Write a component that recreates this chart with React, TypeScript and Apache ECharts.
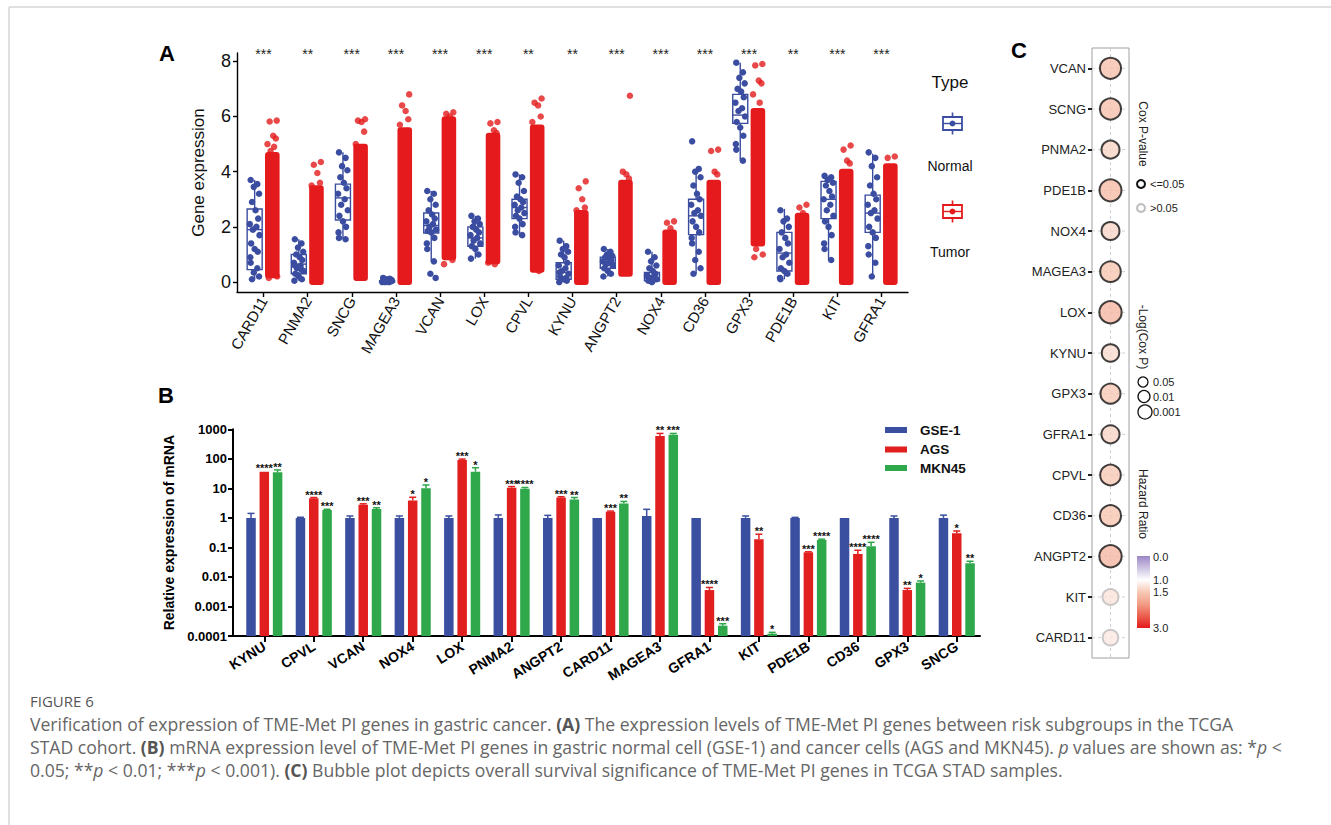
import React, { useEffect, useRef } from "react";
import * as echarts from "echarts";

const FONT = "'Liberation Sans', Arial, Helvetica, sans-serif";
const CAP_FONT = "'Open Sans', Lato, sans-serif";
const BLUE_A = "#3B4DA0";
const RED_A = "#E41A1C";
const BLUE_B = "#3A4FA0";
const RED_B = "#E21F1F";
const GREEN_B = "#2EA84A";

// ---------------- Panel A ----------------
const genesA = ["CARD11", "PNMA2", "SNCG", "MAGEA3", "VCAN", "LOX", "CPVL", "KYNU", "ANGPT2", "NOX4", "CD36", "GPX3", "PDE1B", "KIT", "GFRA1"];
const starsA = ["***", "**", "***", "***", "***", "***", "**", "**", "***", "***", "***", "***", "**", "***", "***"];
const yTicksA = [0, 2, 4, 6, 8];
// normal box: [min, q1, median, q3, max]
const normalBox = [
  [0.1, 0.45, 1.9, 2.65, 3.7],
  [0.05, 0.3, 0.65, 1.0, 1.55],
  [1.55, 2.25, 3.05, 3.55, 4.7],
  [0, 0, 0.02, 0.05, 0.15],
  [0.75, 1.78, 2.05, 2.5, 3.3],
  [0.85, 1.3, 1.6, 2.0, 2.4],
  [1.65, 2.3, 2.7, 3.0, 3.9],
  [0, 0.1, 0.35, 0.7, 1.5],
  [0.2, 0.5, 0.7, 0.9, 1.2],
  [0, 0.05, 0.15, 0.35, 1.1],
  [0.3, 1.72, 2.4, 3.0, 4.1],
  [4.4, 5.75, 6.05, 6.8, 7.95],
  [0.1, 0.4, 1.05, 1.8, 2.65],
  [0.8, 2.3, 3.0, 3.65, 3.85],
  [0.2, 1.8, 2.5, 3.15, 4.65],
];
const normalPts = [
  [3.7, 3.55, 3.45, 3.2, 2.9, 2.6, 2.3, 2.1, 2.0, 1.9, 1.7, 1.4, 1.2, 1.1, 0.9, 0.7, 0.5, 0.35, 0.2, 0.1],
  [1.55, 1.4, 1.25, 1.1, 1.0, 0.9, 0.8, 0.7, 0.6, 0.5, 0.4, 0.3, 0.2, 0.1, 0.05, 0.6, 0.45, 0.25],
  [4.7, 4.5, 4.2, 4.05, 3.8, 3.6, 3.4, 3.2, 3.0, 2.8, 2.6, 2.4, 2.2, 2.0, 1.8, 1.6, 1.55],
  [0.15, 0.12, 0.1, 0.08, 0.05, 0.03, 0.02, 0.0, 0.0, 0.0, 0.04, 0.06],
  [3.3, 3.2, 3.0, 2.8, 2.6, 2.45, 2.3, 2.2, 2.1, 2.0, 1.9, 1.85, 1.8, 1.6, 1.4, 1.2, 0.75, 0.3, 0.15],
  [2.4, 2.3, 2.2, 2.1, 2.0, 1.9, 1.8, 1.7, 1.6, 1.5, 1.4, 1.3, 1.2, 1.0, 0.85],
  [3.9, 3.8, 3.6, 3.3, 3.1, 3.0, 2.9, 2.8, 2.7, 2.6, 2.5, 2.4, 2.3, 2.1, 2.0, 1.8, 1.7],
  [1.5, 1.3, 1.2, 1.1, 1.0, 0.9, 0.7, 0.6, 0.5, 0.4, 0.3, 0.2, 0.1, 0.05, 0.0, 0.35, 0.15],
  [1.2, 1.1, 1.0, 0.95, 0.9, 0.85, 0.8, 0.75, 0.7, 0.65, 0.6, 0.5, 0.4, 0.3, 0.2],
  [1.1, 0.9, 0.75, 0.6, 0.5, 0.4, 0.3, 0.25, 0.2, 0.15, 0.1, 0.05, 0.0, 0.1, 0.2],
  [5.1, 4.1, 4.0, 3.8, 3.5, 3.2, 3.0, 2.8, 2.6, 2.5, 2.4, 2.2, 2.0, 1.8, 1.6, 1.4, 1.1, 0.8, 0.5, 0.3],
  [7.95, 7.6, 7.4, 7.2, 7.0, 6.9, 6.7, 6.5, 6.3, 6.2, 6.0, 5.8, 5.6, 5.3, 5.0, 4.8, 4.4],
  [2.6, 2.3, 2.2, 2.0, 1.8, 1.6, 1.4, 1.2, 1.0, 0.9, 0.7, 0.5, 0.4, 0.3, 0.15, 0.1],
  [3.85, 3.8, 3.7, 3.6, 3.5, 3.3, 3.1, 3.0, 2.8, 2.6, 2.4, 2.2, 2.0, 1.7, 1.4, 1.2, 0.8],
  [4.7, 4.5, 4.2, 3.8, 3.5, 3.2, 3.0, 2.8, 2.6, 2.5, 2.3, 2.0, 1.8, 1.6, 1.3, 1.0, 0.7, 0.2],
];
// dense tumour cloud: [lowest dense value, highest dense value]
const tumorCloud = [
  [0.25, 4.6], [0.0, 3.4], [0.15, 4.9], [0.0, 5.5], [0.9, 5.9], [0.75, 5.3], [0.45, 5.6], [0.0, 2.5],
  [0.3, 3.6], [0.0, 1.8], [0.0, 3.6], [1.4, 6.2], [0.0, 2.4], [0.0, 4.0], [0.0, 4.2],
];
const tumorExtra = [
  [5.85, 5.82, 5.3, 5.2, 5.0, 4.9, 4.75, 0.2, 0.15],
  [4.35, 4.25, 3.95, 3.6, 3.5],
  [5.9, 5.85, 5.8, 5.45, 5.0],
  [6.8, 6.4, 6.2, 5.9, 5.7],
  [6.15, 6.1, 6.0, 0.8, 0.65],
  [5.8, 5.75, 5.5, 5.4, 0.7, 0.65],
  [6.65, 6.5, 6.4, 6.0, 5.8, 0.4],
  [3.65, 3.4, 3.0, 2.7, 2.6],
  [6.75, 4.0, 3.9, 3.75],
  [2.2, 2.15, 1.95],
  [4.8, 4.75, 4.0, 3.9],
  [7.9, 7.85, 7.3, 7.2, 6.8, 6.5, 1.2, 1.0, 0.9],
  [2.8, 2.7, 2.5],
  [4.95, 4.8, 4.4, 4.3],
  [4.55, 4.5, 4.0],
];
const jitterPattern = [-0.09, 0.06, -0.02, 0.1, -0.06, 0.02, 0.08, -0.11, 0.04, -0.04, 0.11, -0.08, 0.0, 0.07, -0.1];

// ---------------- Panel B ----------------
const genesB = ["KYNU", "CPVL", "VCAN", "NOX4", "LOX", "PNMA2", "ANGPT2", "CARD11", "MAGEA3", "GFRA1", "KIT", "PDE1B", "CD36", "GPX3", "SNCG"];
const yTicksB = ["0.0001", "0.001", "0.01", "0.1", "1", "10", "100", "1000"];
const gse1 = [1, 1, 1, 1, 1, 1, 1, 1, 1.16, 1, 1, 1, 1, 1, 1];
const gse1Err = [1.42, 1.05, 1.16, 1.16, 1.16, 1.26, 1.22, 1.02, 1.95, 1.02, 1.16, 1.04, 1.02, 1.16, 1.24];
const ags = [36.6, 4.6, 2.8, 3.9, 91, 10.5, 4.95, 1.62, 592, 0.0036, 0.19, 0.068, 0.06, 0.0036, 0.3];
const agsErr = [38, 4.9, 3.0, 5.0, 98, 11.5, 5.2, 1.7, 725, 0.0044, 0.28, 0.071, 0.08, 0.0041, 0.36];
const mkn45 = [35, 1.85, 2.0, 10, 36.6, 9.7, 4.2, 3.1, 656, 0.000224, 0.00012, 0.178, 0.109, 0.0064, 0.029];
const mkn45Err = [42, 1.95, 2.2, 13, 50, 10.7, 4.9, 3.6, 725, 0.00026, 0.000133, 0.19, 0.149, 0.0073, 0.034];
const gse1Stars = genesB.map(() => "");
const agsStars = ["****", "****", "***", "*", "***", "***", "***", "***", "**", "****", "**", "***", "****", "**", "*"];
const mkn45Stars = ["**", "***", "**", "*", "*", "****", "**", "**", "***", "***", "*", "****", "****", "*", "**"];

// ---------------- Panel C ----------------
const genesC = ["VCAN", "SCNG", "PNMA2", "PDE1B", "NOX4", "MAGEA3", "LOX", "KYNU", "GPX3", "GFRA1", "CPVL", "CD36", "ANGPT2", "KIT", "CARD11"];
const hazardC = [1.6, 1.6, 1.4, 1.65, 1.38, 1.55, 1.7, 1.33, 1.5, 1.4, 1.5, 1.55, 1.7, 1.25, 1.2];
const coxP = [0.003, 0.003, 0.018, 0.0018, 0.018, 0.004, 0.0015, 0.025, 0.0056, 0.017, 0.004, 0.003, 0.0015, 0.055, 0.07];
const hrColors = ["#9C87C6", "#CDC3E2", "#FFFFFF", "#F7C9B6", "#F29D85", "#EB5E4E", "#E41A1C"];
const hrLabels = ["0.0", "1.0", "1.5", "3.0"];
const sizeLegend = ["0.05", "0.01", "0.001"];

function buildOption(): any {
  const ticksA = genesA.map((_, i) => i + 1);
  const ticksB = genesB.map((_, i) => i);

  const normalBoxSeries = {
    type: "custom",
    xAxisIndex: 0,
    yAxisIndex: 0,
    data: normalBox.map((b, i) => [i + 1, ...b]),
    renderItem: (params: any, api: any) => {
      const x = api.value(0) - 0.2;
      const mn = api.value(1), q1 = api.value(2), md = api.value(3), q3 = api.value(4), mx = api.value(5);
      const hw = 0.17;
      const tl = api.coord([x - hw, q3]);
      const br = api.coord([x + hw, q1]);
      const pMax = api.coord([x, mx]);
      const pMin = api.coord([x, mn]);
      const pMed = api.coord([x, md]);
      const st = { stroke: BLUE_A, lineWidth: 1.4, fill: null };
      return {
        type: "group",
        children: [
          { type: "line", shape: { x1: pMax[0], y1: pMax[1], x2: pMax[0], y2: tl[1] }, style: st },
          { type: "line", shape: { x1: pMin[0], y1: pMin[1], x2: pMin[0], y2: br[1] }, style: st },
          { type: "rect", shape: { x: tl[0], y: tl[1], width: br[0] - tl[0], height: Math.max(br[1] - tl[1], 1) }, style: { stroke: BLUE_A, lineWidth: 1.4, fill: "#fff" } },
          { type: "line", shape: { x1: tl[0], y1: pMed[1], x2: br[0], y2: pMed[1] }, style: st },
        ],
      };
    },
    z: 2,
  };

  const normalPointSeries = {
    type: "scatter",
    xAxisIndex: 0,
    yAxisIndex: 0,
    symbolSize: 6.5,
    itemStyle: { color: BLUE_A, opacity: 1 },
    data: normalPts.flatMap((arr, gi) => arr.map((v, k) => [gi + 1 - 0.2 + jitterPattern[k % jitterPattern.length], v])),
    z: 3,
  };

  const tumorCloudSeries = {
    type: "custom",
    xAxisIndex: 0,
    yAxisIndex: 0,
    data: tumorCloud.map((c, i) => [i + 1, c[0], c[1]]),
    renderItem: (params: any, api: any) => {
      const x = api.value(0) + 0.2;
      const a = api.coord([x - 0.165, api.value(2)]);
      const b = api.coord([x + 0.165, api.value(1)]);
      return {
        type: "rect",
        shape: { x: a[0], y: a[1] - 3, width: b[0] - a[0], height: b[1] - a[1] + 6, r: 3 },
        style: { fill: RED_A },
      };
    },
    z: 3,
  };

  const tumorExtraSeries = {
    type: "scatter",
    xAxisIndex: 0,
    yAxisIndex: 0,
    symbolSize: 6.5,
    itemStyle: { color: RED_A },
    data: tumorExtra.flatMap((arr, gi) => arr.map((v, k) => [gi + 1 + 0.2 + jitterPattern[(k + 3) % jitterPattern.length], v])),
    z: 3,
  };

  const starsASeries = {
    type: "custom",
    xAxisIndex: 0,
    yAxisIndex: 0,
    data: genesA.map((_, i) => [i + 1, 8.3]),
    renderItem: (params: any, api: any) => {
      const p = api.coord([api.value(0), api.value(1)]);
      return {
        type: "text",
        x: p[0],
        y: p[1] + 1,
        style: { text: starsA[params.dataIndex], fontSize: 14, fontFamily: FONT, fill: "#222", align: "center", verticalAlign: "middle" },
      };
    },
    z: 4,
  };

  const barSeries = (vals: number[], errs: number[], stars: string[], color: string, off: number) => ({
    type: "custom",
    xAxisIndex: 1,
    yAxisIndex: 1,
    data: vals.map((v, i) => [i, v, errs[i]]),
    renderItem: (params: any, api: any) => {
      const x = api.value(0) + off;
      const base = api.coord([x, 0.0001]);
      const top = api.coord([x, api.value(1)]);
      const et = api.coord([x, api.value(2)]);
      const w = 9.5;
      const children: any[] = [
        { type: "rect", shape: { x: top[0] - w / 2, y: top[1], width: w, height: base[1] - top[1] }, style: { fill: color } },
      ];
      if (top[1] - et[1] > 0.5) {
        children.push({ type: "line", shape: { x1: top[0], y1: top[1], x2: top[0], y2: et[1] }, style: { stroke: color, lineWidth: 1.5 } });
        children.push({ type: "line", shape: { x1: top[0] - 3.5, y1: et[1], x2: top[0] + 3.5, y2: et[1] }, style: { stroke: color, lineWidth: 1.5 } });
      }
      const s = stars[params.dataIndex];
      if (s) {
        children.push({
          type: "text",
          x: top[0],
          y: et[1] - 3,
          style: { text: s, fontSize: 11, fontWeight: "bold", fontFamily: FONT, fill: "#111", align: "center", verticalAlign: "middle" },
        });
      }
      return { type: "group", children };
    },
    z: 3,
  });

  const offB = 13.3 / 49.46;

  const cLinesSeries = {
    type: "custom",
    xAxisIndex: 2,
    yAxisIndex: 2,
    data: genesC.map((_, i) => [1, i]),
    renderItem: (params: any, api: any) => {
      const i = api.value(1);
      const a = api.coord([0, i]);
      const b = api.coord([2, i]);
      const children: any[] = [
        { type: "line", shape: { x1: a[0], y1: a[1], x2: b[0], y2: b[1] }, style: { stroke: "#cfcfcf", lineWidth: 1, lineDash: [3, 3] } },
      ];
      if (params.dataIndex === 0) {
        const t = api.coord([1, 0]);
        const size = api.size([0, 1]);
        children.push({
          type: "line",
          shape: { x1: t[0], y1: t[1] - size[1] / 2, x2: t[0], y2: t[1] + size[1] * 14.5 },
          style: { stroke: "#cfcfcf", lineWidth: 1, lineDash: [3, 3] },
        });
      }
      return { type: "group", children };
    },
    z: 1,
  };

  const bubbleSeries = {
    type: "scatter",
    xAxisIndex: 2,
    yAxisIndex: 2,
    data: genesC.map((g, i) => ({
      value: [1, i, hazardC[i], coxP[i]],
      itemStyle: { borderColor: coxP[i] <= 0.05 ? "#111" : "#bdbdbd", borderWidth: 2 },
    })),
    symbolSize: (v: number[]) => 11 + 4 * -Math.log10(v[3]),
    z: 3,
  };

  const series: any[] = [
    normalBoxSeries,
    normalPointSeries,
    tumorCloudSeries,
    tumorExtraSeries,
    starsASeries,
    barSeries(gse1, gse1Err, gse1Stars, BLUE_B, -offB),
    barSeries(ags, agsErr, agsStars, RED_B, 0),
    barSeries(mkn45, mkn45Err, mkn45Stars, GREEN_B, offB),
    cLinesSeries,
    bubbleSeries,
  ];
  const bubbleIndex = series.indexOf(bubbleSeries);

  const txt = (x: number, y: number, text: string, extra: any = {}, rotation = 0) => ({
    type: "text",
    x,
    y,
    rotation,
    style: { text, fontFamily: FONT, fontSize: 12, fill: "#222", align: "left", verticalAlign: "middle", ...extra },
  });

  const legendBoxIcon = (cy: number, color: string) => ({
    type: "group",
    children: [
      { type: "line", shape: { x1: 952.5, y1: cy - 11, x2: 952.5, y2: cy - 6.5 }, style: { stroke: color, lineWidth: 1.6 } },
      { type: "line", shape: { x1: 952.5, y1: cy + 6.5, x2: 952.5, y2: cy + 11 }, style: { stroke: color, lineWidth: 1.6 } },
      { type: "rect", shape: { x: 943, y: cy - 6.5, width: 19, height: 13 }, style: { fill: "#fff", stroke: color, lineWidth: 1.8 } },
      { type: "line", shape: { x1: 943, y1: cy, x2: 962, y2: cy }, style: { stroke: color, lineWidth: 1.4 } },
      { type: "circle", shape: { cx: 952.5, cy, r: 3 }, style: { fill: color } },
    ],
  });

  const CAP_SIZE = 17.6;
  const capBase = { fontFamily: CAP_FONT, fontSize: CAP_SIZE, fill: "#666" };
  const rich = {
    b: { fontFamily: CAP_FONT, fontSize: CAP_SIZE, fill: "#555", fontWeight: "bold" },
    i: { fontFamily: CAP_FONT, fontSize: CAP_SIZE, fill: "#666", fontStyle: "italic" },
  };
  const capX = 30;

  const graphic: any[] = [
    // page frame
    { type: "line", shape: { x1: 9, y1: 7, x2: 1331, y2: 7 }, style: { stroke: "#d6d6d6", lineWidth: 1.5 } },
    { type: "line", shape: { x1: 9, y1: 7, x2: 9, y2: 825 }, style: { stroke: "#d6d6d6", lineWidth: 1.5 } },
    // panel letters
    txt(159, 53, "A", { fontSize: 22, fontWeight: "bold", fill: "#000" }),
    txt(158, 395, "B", { fontSize: 22, fontWeight: "bold", fill: "#000" }),
    txt(1011, 50, "C", { fontSize: 22, fontWeight: "bold", fill: "#000" }),
    // legend A
    txt(950, 82, "Type", { fontSize: 17, align: "center", fill: "#111" }),
    legendBoxIcon(123.5, BLUE_A),
    txt(950, 166, "Normal", { fontSize: 14, align: "center", fill: "#111" }),
    legendBoxIcon(211.5, RED_A),
    txt(950, 252, "Tumor", { fontSize: 14, align: "center", fill: "#111" }),
    // legend B
    { type: "rect", shape: { x: 885, y: 427, width: 22, height: 6 }, style: { fill: BLUE_B } },
    { type: "rect", shape: { x: 885, y: 446.5, width: 22, height: 6 }, style: { fill: RED_B } },
    { type: "rect", shape: { x: 885, y: 465, width: 22, height: 6 }, style: { fill: GREEN_B } },
    txt(920, 430, "GSE-1", { fontSize: 13.5, fontWeight: "bold", fill: "#111" }),
    txt(920, 449.5, "AGS", { fontSize: 13.5, fontWeight: "bold", fill: "#111" }),
    txt(920, 468, "MKN45", { fontSize: 13.5, fontWeight: "bold", fill: "#111" }),
    // legend C
    txt(1143, 134, "Cox P-value", { fontSize: 12, align: "center" }, -Math.PI / 2),
    { type: "circle", shape: { cx: 1141, cy: 184, r: 4 }, style: { fill: "#fff", stroke: "#111", lineWidth: 2 } },
    txt(1150, 184, "<=0.05", { fontSize: 11 }),
    { type: "circle", shape: { cx: 1141, cy: 208, r: 4 }, style: { fill: "#fff", stroke: "#bdbdbd", lineWidth: 2 } },
    txt(1150, 208, ">0.05", { fontSize: 11 }),
    txt(1143, 337, "-Log(Cox P)", { fontSize: 12, align: "center" }, -Math.PI / 2),
    { type: "circle", shape: { cx: 1143, cy: 382, r: 5 }, style: { fill: "none", stroke: "#111", lineWidth: 1.3 } },
    { type: "circle", shape: { cx: 1144, cy: 396.5, r: 6 }, style: { fill: "none", stroke: "#111", lineWidth: 1.3 } },
    { type: "circle", shape: { cx: 1145, cy: 412, r: 7 }, style: { fill: "none", stroke: "#111", lineWidth: 1.3 } },
    txt(1153, 382, sizeLegend[0], { fontSize: 11 }),
    txt(1153, 396.5, sizeLegend[1], { fontSize: 11 }),
    txt(1153, 412, sizeLegend[2], { fontSize: 11 }),
    txt(1143, 504, "Hazard Ratio", { fontSize: 12, align: "center" }, -Math.PI / 2),
    {
      type: "rect",
      shape: { x: 1137, y: 556, width: 13, height: 72 },
      style: {
        fill: new echarts.graphic.LinearGradient(0, 0, 0, 1, hrColors.map((c, k) => ({ offset: k / (hrColors.length - 1), color: c }))),
      },
    },
    txt(1153, 557, hrLabels[0], { fontSize: 11 }),
    txt(1153, 580, hrLabels[1], { fontSize: 11 }),
    txt(1153, 592, hrLabels[2], { fontSize: 11 }),
    txt(1153, 628, hrLabels[3], { fontSize: 11 }),
    // caption
    { type: "text", x: capX, y: 701, style: { text: "FIGURE 6", fontFamily: CAP_FONT, fontSize: 15, fill: "#555", verticalAlign: "middle" } },
    {
      type: "text", x: capX, y: 724,
      style: { ...capBase, verticalAlign: "middle", rich, text: "Verification of expression of TME-Met PI genes in gastric cancer. {b|(A)} The expression levels of TME-Met PI genes between risk subgroups in the TCGA" },
    },
    {
      type: "text", x: capX, y: 747,
      style: { ...capBase, verticalAlign: "middle", rich, text: "STAD cohort. {b|(B)} mRNA expression level of TME-Met PI genes in gastric normal cell (GSE-1) and cancer cells (AGS and MKN45). {i|p} values are shown as: *{i|p} <" },
    },
    {
      type: "text", x: capX, y: 770,
      style: { ...capBase, verticalAlign: "middle", rich, text: "0.05; **{i|p} < 0.01; ***{i|p} < 0.001). {b|(C)} Bubble plot depicts overall survival significance of TME-Met PI genes in TCGA STAD samples." },
    },
  ];

  return {
    animation: false,
    backgroundColor: "#fff",
    textStyle: { fontFamily: FONT },
    grid: [
      { left: 237, top: 53, width: 671, height: 239 },
      { left: 233, top: 429.3, width: 747, height: 206.7 },
      { left: 1092, top: 48, width: 37, height: 610, show: true, borderColor: "#a0a0a0", borderWidth: 1 },
    ],
    xAxis: [
      {
        gridIndex: 0, type: "value", min: 0.4, max: 15.6,
        axisLine: { onZero: false, lineStyle: { color: "#000", width: 1.4 } },
        axisTick: { customValues: ticksA, length: 5, lineStyle: { color: "#000", width: 1.4 } },
        axisLabel: { customValues: ticksA, formatter: (v: number) => genesA[Math.round(v) - 1] ?? "", rotate: 60, fontSize: 15, color: "#111", fontFamily: FONT, margin: 6 },
        splitLine: { show: false },
      },
      {
        gridIndex: 1, type: "value", min: -0.633, max: 14.47,
        axisLine: { onZero: false, lineStyle: { color: "#000", width: 2 } },
        axisTick: { customValues: ticksB, length: 6, lineStyle: { color: "#000", width: 2 } },
        axisLabel: { customValues: ticksB, formatter: (v: number) => genesB[Math.round(v)] ?? "", rotate: 32, fontSize: 14, fontWeight: "bold", color: "#000", fontFamily: FONT, margin: 9 },
        splitLine: { show: false },
      },
      {
        gridIndex: 2, type: "value", min: 0, max: 2, interval: 1,
        axisLine: { show: false, onZero: false }, axisTick: { show: false }, axisLabel: { show: false }, splitLine: { show: false },
      },
    ],
    yAxis: [
      {
        gridIndex: 0, type: "value", min: -0.36, max: 8.3,
        axisLine: { show: true, onZero: false, lineStyle: { color: "#000", width: 1.4 } },
        axisTick: { show: true, customValues: yTicksA, length: 4, lineStyle: { color: "#000", width: 1.4 } },
        axisLabel: { customValues: yTicksA, fontSize: 18, color: "#111", fontFamily: FONT, margin: 6 },
        splitLine: { show: false },
        name: "Gene expression", nameLocation: "middle", nameGap: 30,
        nameTextStyle: { fontSize: 17, color: "#111", fontFamily: FONT },
      },
      {
        gridIndex: 1, type: "log", logBase: 10, min: 0.0001, max: 1000, splitNumber: 7,
        axisLine: { show: true, onZero: false, lineStyle: { color: "#000", width: 2 } },
        axisTick: { show: true, customValues: [0.0001, 0.001, 0.01, 0.1, 1, 10, 100, 1000], length: 5, lineStyle: { color: "#000", width: 2 } },
        axisLabel: {
          customValues: [0.0001, 0.001, 0.01, 0.1, 1, 10, 100, 1000],
          formatter: (v: number) => yTicksB[Math.round(Math.log10(v)) + 4] ?? "",
          fontSize: 13, fontWeight: "bold", color: "#000", fontFamily: FONT, margin: 6,
        },
        minorTick: { show: false },
        splitLine: { show: false },
        name: "Relative expression of mRNA", nameLocation: "middle", nameGap: 48,
        nameTextStyle: { fontSize: 14, fontWeight: "bold", color: "#000", fontFamily: FONT },
      },
      {
        gridIndex: 2, type: "category", data: genesC, inverse: true,
        axisLine: { show: false, onZero: false },
        axisTick: { show: true, alignWithLabel: true, length: 4, lineStyle: { color: "#222", width: 2 } },
        axisLabel: { fontSize: 13, color: "#222", fontFamily: FONT, margin: 6 },
        splitLine: { show: false },
      },
    ],
    visualMap: [
      { type: "continuous", show: false, min: 0, max: 3, dimension: 2, seriesIndex: bubbleIndex, inRange: { color: hrColors } },
    ],
    series,
    graphic,
  };
}

export default function App() {
  const ref = useRef<HTMLDivElement>(null);
  useEffect(() => {
    if (!ref.current) return;
    const chart = echarts.init(ref.current, null, { renderer: "svg" });
    chart.setOption(buildOption());
    return () => chart.dispose();
  }, []);
  return (
    <div
      ref={ref}
      style={{ position: "absolute", left: 0, top: 0, width: 1331, height: 825, background: "#fff" }}
    />
  );
}
